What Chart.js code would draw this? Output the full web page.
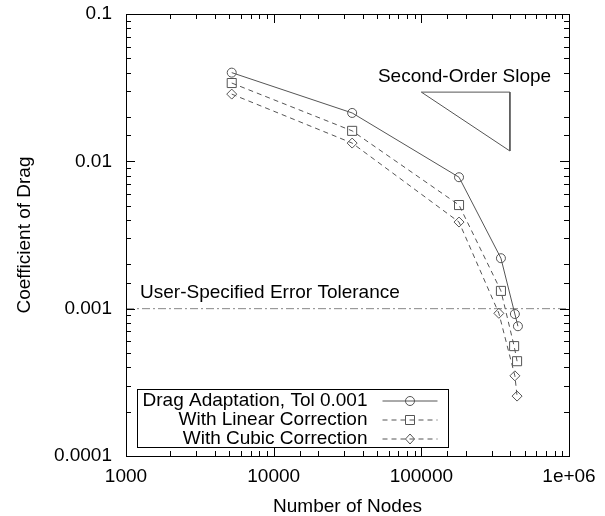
<!DOCTYPE html>
<html>
<head>
<meta charset="utf-8">
<script src="https://cdn.jsdelivr.net/npm/chart.js@4/dist/chart.umd.min.js"></script>
<style>
  html, body { margin: 0; padding: 0; background: #fff; }
  #wrap { width: 605px; height: 516px; position: relative; }
</style>
</head>
<body>
<div id="wrap"><canvas id="cd-chart"></canvas></div>
<script>
// values
const seriesNames = [
  "Drag Adaptation, Tol 0.001",
  "With Linear Correction",
  "With Cubic Correction",
];
const nodesDrag = [5200, 34000, 180000, 346000, 430000, 451000];
const nodesLinear = [5200, 34000, 180000, 346000, 425000, 445000];
const nodesCubic = [5200, 34000, 180000, 335000, 430000, 445000];
const dragAdapt = [0.040, 0.0213, 0.0078, 0.0022, 0.00092, 0.00076];
const linearCorr = [0.034, 0.0161, 0.00505, 0.00132, 0.000557, 0.00044];
const cubicCorr = [0.0286, 0.0133, 0.00387, 0.00093, 0.00035, 0.000255];

const tolerance = 0.001;
const slopeX = [100000, 398000, 398000, 100000];
const slopeY = [0.0295, 0.0295, 0.01175, 0.0295];

const xTickValues = [1000, 10000, 100000, 1000000];
const xTickLabels = ["1000", "10000", "100000", "1e+06"];
const yTickValues = [0.0001, 0.001, 0.01, 0.1];
const yTickLabels = ["0.0001", "0.001", "0.01", "0.1"];

// text notes: [text, x, y] in data units (left edge, middle)
const notes = [
  ["Second-Order Slope", 50800, 0.0373],
  ["User-Specified Error Tolerance", 1245, 0.00128],
];

const FONT = "'Liberation Sans', Arial, sans-serif";
const LINE = "#555";

const toPoints = (xs, ys) => xs.map((x, i) => ({ x: x, y: ys[i] }));

function labelFor(values, labels, v) {
  const i = values.findIndex((t) => Math.abs(Math.log10(t) - Math.log10(v)) < 1e-6);
  return i < 0 ? "" : labels[i];
}

function isDecade(v) {
  const l = Math.log10(v);
  return Math.abs(l - Math.round(l)) < 1e-6;
}

function drawMarker(ctx, style, x, y) {
  ctx.beginPath();
  if (style === "circle") {
    ctx.arc(x, y, 4.5, 0, Math.PI * 2);
  } else if (style === "rect") {
    ctx.rect(x - 4.5, y - 4.5, 9, 9);
  } else {
    ctx.moveTo(x, y - 5);
    ctx.lineTo(x + 4.5, y);
    ctx.lineTo(x, y + 5);
    ctx.lineTo(x - 4.5, y);
    ctx.closePath();
  }
  ctx.stroke();
}

// frame, inward ticks on all four sides, notes and the legend box
const framePlugin = {
  id: "frame",
  afterDatasetsDraw(chart) {
    const { ctx, chartArea: a, scales } = chart;
    ctx.save();
    ctx.strokeStyle = "#000";
    ctx.lineWidth = 1;
    ctx.setLineDash([]);
    ctx.strokeRect(Math.round(a.left) + 0.5, Math.round(a.top) + 0.5,
      Math.round(a.right - a.left), Math.round(a.bottom - a.top));

    ctx.beginPath();
    for (const t of scales.x.ticks) {
      const px = Math.round(scales.x.getPixelForValue(t.value)) + 0.5;
      if (px <= a.left + 1 || px >= a.right - 1) continue;
      const len = isDecade(t.value) ? 9 : 5;
      ctx.moveTo(px, a.bottom);
      ctx.lineTo(px, a.bottom - len);
      ctx.moveTo(px, a.top);
      ctx.lineTo(px, a.top + len);
    }
    for (const t of scales.y.ticks) {
      const py = Math.round(scales.y.getPixelForValue(t.value)) + 0.5;
      if (py <= a.top + 1 || py >= a.bottom - 1) continue;
      const len = isDecade(t.value) ? 9 : 5;
      ctx.moveTo(a.left, py);
      ctx.lineTo(a.left + len, py);
      ctx.moveTo(a.right, py);
      ctx.lineTo(a.right - len, py);
    }
    ctx.stroke();

    ctx.fillStyle = "#000";
    ctx.font = "19px " + FONT;
    ctx.textBaseline = "middle";
    ctx.textAlign = "left";
    for (const [text, x, y] of notes) {
      ctx.fillText(text, scales.x.getPixelForValue(x), scales.y.getPixelForValue(y));
    }

    // legend box, text right aligned with the sample to its right
    const bx = Math.round(a.left) + 11.5;
    const by = Math.round(a.bottom) - 66.5;
    ctx.fillStyle = "#fff";
    ctx.fillRect(bx, by, 311, 58);
    ctx.strokeStyle = "#000";
    ctx.strokeRect(bx, by, 311, 58);
    chart.data.datasets.slice(0, 3).forEach((ds, i) => {
      const y = by + 11 + i * 19;
      ctx.fillStyle = "#000";
      ctx.textAlign = "right";
      ctx.fillText(seriesNames[i], bx + 230, y);
      ctx.strokeStyle = LINE;
      ctx.setLineDash(ds.borderDash || []);
      ctx.beginPath();
      ctx.moveTo(bx + 245, y + 0.5);
      ctx.lineTo(bx + 300, y + 0.5);
      ctx.stroke();
      ctx.setLineDash([]);
      drawMarker(ctx, ds.pointStyle, bx + 272.5, y + 0.5);
    });
    ctx.restore();
  },
};

const ctx = document.getElementById("cd-chart").getContext("2d");

new Chart(ctx, {
  type: "line",
  data: {
    datasets: [
      {
        label: seriesNames[0],
        data: toPoints(nodesDrag, dragAdapt),
        borderColor: LINE,
        borderWidth: 1,
        pointStyle: "circle",
        pointRadius: 4.5,
        pointBorderColor: LINE,
        pointBackgroundColor: "rgba(0,0,0,0)",
        pointBorderWidth: 1,
      },
      {
        label: seriesNames[1],
        data: toPoints(nodesLinear, linearCorr),
        borderColor: LINE,
        borderWidth: 1,
        borderDash: [5, 4],
        pointStyle: "rect",
        pointRadius: 6.4,
        pointBorderColor: LINE,
        pointBackgroundColor: "rgba(0,0,0,0)",
        pointBorderWidth: 1,
      },
      {
        label: seriesNames[2],
        data: toPoints(nodesCubic, cubicCorr),
        borderColor: LINE,
        borderWidth: 1,
        borderDash: [5, 4],
        pointStyle: "rectRot",
        pointRadius: 5,
        pointBorderColor: LINE,
        pointBackgroundColor: "rgba(0,0,0,0)",
        pointBorderWidth: 1,
      },
      {
        label: "tolerance",
        data: [{ x: 1000, y: tolerance }, { x: 1000000, y: tolerance }],
        borderColor: "#888",
        borderWidth: 1,
        borderDash: [8, 3, 2, 3],
        pointRadius: 0,
      },
      {
        label: "slope",
        data: toPoints(slopeX, slopeY),
        borderColor: LINE,
        borderWidth: 1,
        pointRadius: 0,
      },
    ],
  },
  options: {
    responsive: true,
    maintainAspectRatio: false,
    animation: false,
    layout: { padding: { top: 14, right: 36, left: 0, bottom: 0 } },
    scales: {
      x: {
        type: "logarithmic",
        min: 1000,
        max: 1000000,
        grid: { display: false, drawTicks: false },
        border: { display: false },
        ticks: {
          autoSkip: false,
          maxRotation: 0,
          padding: 9,
          color: "#000",
          font: { family: FONT, size: 19 },
          callback: (v) => labelFor(xTickValues, xTickLabels, v),
        },
        title: {
          display: true,
          text: "Number of Nodes",
          color: "#000",
          font: { family: FONT, size: 19 },
          padding: { top: 0, bottom: -2 },
        },
        afterFit: (scale) => {
          scale.height = 60;
          scale.paddingLeft = 0;
          scale.paddingRight = 0;
        },
      },
      y: {
        type: "logarithmic",
        min: 0.0001,
        max: 0.1,
        grid: { display: false, drawTicks: false },
        border: { display: false },
        ticks: {
          autoSkip: false,
          padding: 14,
          color: "#000",
          font: { family: FONT, size: 19 },
          callback: (v) => labelFor(yTickValues, yTickLabels, v),
        },
        title: {
          display: true,
          text: "Coefficient of Drag",
          color: "#000",
          font: { family: FONT, size: 19 },
          padding: { top: 13, bottom: 0 },
        },
        afterFit: (scale) => {
          scale.width = 126;
          scale.paddingTop = 0;
          scale.paddingBottom = 0;
        },
      },
    },
    plugins: {
      legend: { display: false },
      tooltip: { enabled: false },
    },
  },
  plugins: [framePlugin],
});
</script>
</body>
</html>
